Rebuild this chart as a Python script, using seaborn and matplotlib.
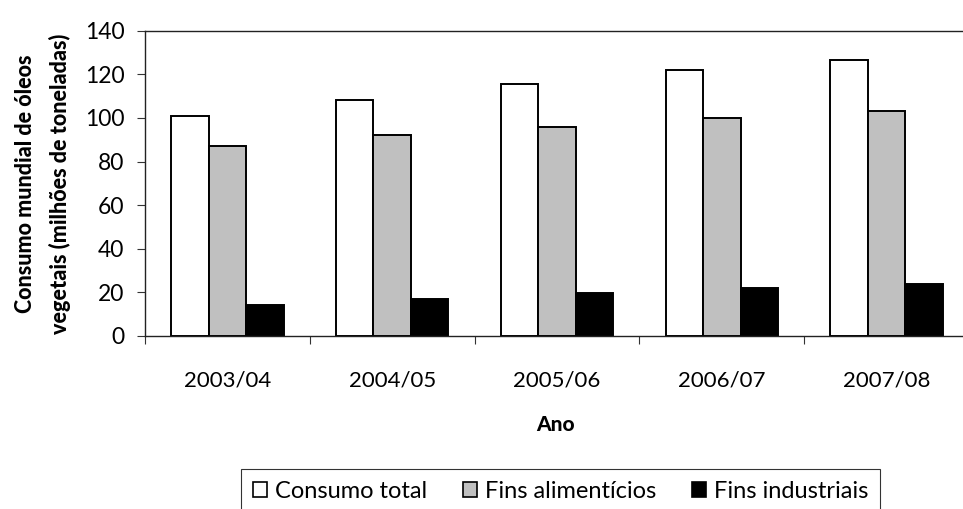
import pandas as pd
import matplotlib.pyplot as plt
import seaborn as sns
from matplotlib.patches import Patch

anos = ["2003/04", "2004/05", "2005/06", "2006/07", "2007/08"]
consumo_total = [101, 108, 115.5, 122, 126.5]
fins_alimenticios = [87, 92, 96, 100, 103]
fins_industriais = [14, 17, 19.5, 22, 24]

series = ["Consumo total", "Fins alimentícios", "Fins industriais"]
cores = ["#FFFFFF", "#C0C0C0", "#000000"]

df = pd.DataFrame({
    "Ano": anos * 3,
    "Valor": consumo_total + fins_alimenticios + fins_industriais,
    "Serie": [s for s in series for _ in anos],
})

sns.set_style("white")
plt.rcParams["font.family"] = ["Lato", "DejaVu Sans"]

fig = plt.figure(figsize=(9.63, 5.09), dpi=100)
ax = fig.add_axes([145 / 963, 1 - 336 / 509, (969 - 145) / 963, (336 - 30.7) / 509])

sns.barplot(data=df, x="Ano", y="Valor", hue="Serie", palette=cores,
            width=0.683, edgecolor="black", linewidth=1.4, legend=False, ax=ax)

ax.set_ylim(0, 140)
ax.set_xlim(-0.5, 4.5)
ax.set_yticks(range(0, 141, 20))
ax.tick_params(axis="y", labelsize=16.5, length=5.8, width=0.8, color="#333333", left=True, pad=9,
               labelcolor="black")
ax.set_xticks(range(len(anos)))
ax.set_xticklabels(anos)
ax.tick_params(axis="x", which="major", length=0, labelsize=16, pad=25, labelcolor="black")
ax.set_xticks([i - 0.5 for i in range(len(anos) + 1)], minor=True)
ax.tick_params(axis="x", which="minor", length=5.8, width=0.8, color="#333333", bottom=True)

for side in ["left", "bottom", "top"]:
    ax.spines[side].set_color("#222222")
    ax.spines[side].set_linewidth(1.0)
ax.spines["right"].set_visible(False)

ax.set_xlabel("Ano", fontsize=15, fontweight="black", color="black")
ax.xaxis.set_label_coords((555 - 145) / 824, -(415 - 336) / 305.3)
ax.set_ylabel("Consumo mundial de óleos\nvegetais (milhões de toneladas)",
              fontsize=15.5, fontweight="black", linespacing=1.7, color="black")
ax.yaxis.set_label_coords((71 - 145) / 824, 0.5)

handles = [Patch(facecolor=c, edgecolor="black", linewidth=1.2) for c in cores]
leg = fig.legend(handles, series, loc="upper left", bbox_to_anchor=(241 / 963, 1 - 469 / 509),
                 bbox_transform=fig.transFigure, ncol=3, frameon=True, fancybox=False,
                 fontsize=17, handlelength=0.6, handleheight=0.6, handletextpad=0.35,
                 columnspacing=1.5, borderaxespad=0, borderpad=0.5)
leg.get_frame().set_edgecolor("black")
leg.get_frame().set_linewidth(0.8)
for t in leg.get_texts():
    t.set_color("black")

fig.savefig("out.png", dpi=100)
